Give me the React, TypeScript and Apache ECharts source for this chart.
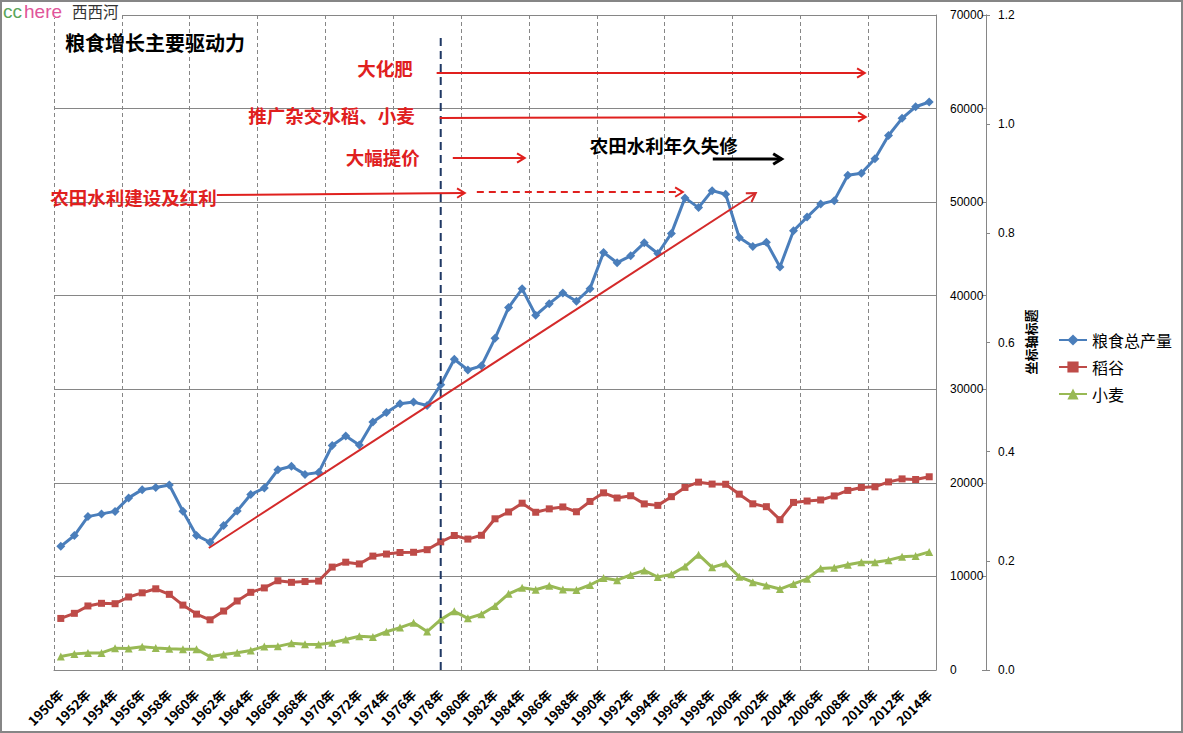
import React, { useEffect, useRef } from 'react';
import * as echarts from 'echarts';

const years: string[] = [];
for (let y = 1950; y <= 2014; y++) years.push(`${y}年`);

const grain = [
  13213, 14369, 16392, 16683, 16952, 18394, 19275, 19505, 19765, 16968,
  14385, 13650, 15441, 17000, 18750, 19453, 21400, 21782, 20906, 21097,
  23996, 25014, 24048, 26494, 27527, 28452, 28631, 28273, 30477, 33212,
  32056, 32502, 35450, 38728, 40731, 37911, 39151, 40298, 39408, 40755,
  44624, 43529, 44266, 45649, 44510, 46662, 50454, 49417, 51230, 50839,
  46218, 45264, 45706, 43070, 46947, 48402, 49804, 50160, 52871, 53082,
  54648, 57121, 58958, 60194, 60703,
];
const rice = [
  5510, 6056, 6843, 7127, 7085, 7803, 8248, 8678, 8085, 6937,
  5973, 5364, 6299, 7377, 8300, 8772, 9539, 9369, 9453, 9507,
  10999, 11521, 11336, 12174, 12391, 12556, 12581, 12857, 13693, 14375,
  13991, 14396, 16160, 16887, 17826, 16857, 17222, 17426, 16911, 18013,
  18933, 18381, 18622, 17751, 17593, 18523, 19510, 20074, 19871, 19849,
  18791, 17758, 17454, 16066, 17909, 18059, 18172, 18603, 19190, 19510,
  19576, 20100, 20424, 20361, 20651,
];
const wheat = [
  1450, 1723, 1813, 1828, 2335, 2297, 2480, 2364, 2259, 2218,
  2217, 1425, 1667, 1848, 2084, 2522, 2528, 2848, 2746, 2729,
  2919, 3258, 3599, 3523, 4087, 4531, 5039, 4108, 5384, 6273,
  5521, 5964, 6847, 8139, 8782, 8581, 9004, 8590, 8543, 9081,
  9823, 9595, 10159, 10639, 9930, 10221, 11057, 12329, 10973, 11388,
  9964, 9387, 9029, 8649, 9195, 9745, 10847, 10930, 11246, 11512,
  11518, 11740, 12102, 12193, 12621,
];

const seriesNames = ['粮食总产量', '稻谷', '小麦'];
const leftTicks = [0, 10000, 20000, 30000, 40000, 50000, 60000, 70000];
const rightTicks = [0, 0.2, 0.4, 0.6, 0.8, 1.0, 1.2];

// annotations in data space: [category index (fractional), value]
const redArrows = [
  { from: [27.7, 63800], to: [59.25, 63800] },
  { from: [27.93, 58990], to: [59.32, 59100] },
  { from: [28.89, 54720], to: [34.19, 54720] },
  { from: [11.5, 50760], to: [29.77, 50980] },
];
const dashedArrow = { from: [30.66, 51080], to: [45.84, 51080] };
const trendArrow = { from: [10.91, 13040], to: [51.22, 50980] };
const blackArrow = { from: [48.05, 54610], to: [53.13, 54610] };
const reformLine = { idx: 28, top: 67650 };
const notes = [
  { text: '大化肥', at: [25.94, 64340], align: 'right', black: false },
  { text: '推广杂交水稻、小麦', at: [26.09, 59320], align: 'right', black: false },
  { text: '大幅提价', at: [26.46, 54830], align: 'right', black: false },
  { text: '农田水利建设及红利', at: [11.5, 50550], align: 'right', black: false },
  { text: '农田水利年久失修', at: [38.98, 56110], align: 'left', black: true },
];

const RED = '#e0201e';
const GRID = '#868686';
const CJK = '"Noto Sans CJK SC", "Noto Sans", sans-serif';

export default function App() {
  const ref = useRef<HTMLDivElement>(null);
  useEffect(() => {
    const chart = echarts.init(ref.current!, null, { renderer: 'svg' });
    const option: any = {
      animation: false,
      backgroundColor: '#fff',
      textStyle: { fontFamily: CJK },
      grid: { left: 54, right: 247, top: 15, bottom: 63, outerBoundsMode: 'none', containLabel: false },
      legend: {
        orient: 'vertical',
        left: 1053,
        top: 327,
        itemWidth: 28,
        itemHeight: 14,
        itemGap: 11,
        data: seriesNames,
        textStyle: { fontSize: 16, color: '#000', fontFamily: CJK },
      },
      xAxis: [
        {
          type: 'category',
          data: years,
          boundaryGap: true,
          axisLine: { show: true, lineStyle: { color: GRID, width: 1 } },
          axisTick: { show: false },
          axisLabel: {
            interval: 1,
            rotate: 45,
            margin: 22,
            fontSize: 13,
            fontWeight: 'bold',
            color: '#000',
            fontFamily: CJK,
          },
          splitLine: { show: true, interval: 4, lineStyle: { color: GRID, type: [4, 3], width: 1 } },
        },
      ],
      yAxis: [
        {
          type: 'value',
          position: 'right',
          offset: 50,
          min: leftTicks[0],
          max: leftTicks[leftTicks.length - 1],
          interval: 10000,
          axisLine: { show: true, lineStyle: { color: GRID } },
          axisTick: { show: true, inside: true, length: 4, lineStyle: { color: GRID } },
          axisLabel: {
            inside: true,
            align: 'left',
            margin: 36,
            fontSize: 12,
            color: '#000',
            fontFamily: '"Liberation Sans", Arial, sans-serif',
            formatter: (v: number) => String(v),
          },
          splitLine: { show: true, lineStyle: { color: GRID, width: 1 } },
        },
        {
          type: 'value',
          position: 'right',
          offset: 50,
          min: rightTicks[0],
          max: rightTicks[rightTicks.length - 1],
          interval: 0.2,
          axisLine: { show: true, lineStyle: { color: GRID } },
          axisTick: { show: true, inside: false, length: 4, lineStyle: { color: GRID } },
          axisLabel: {
            margin: 12,
            fontSize: 12,
            color: '#000',
            fontFamily: '"Liberation Sans", Arial, sans-serif',
            formatter: (v: number) => v.toFixed(1),
          },
          splitLine: { show: false },
        },
        {
          type: 'value',
          position: 'right',
          offset: 0,
          min: leftTicks[0],
          max: leftTicks[leftTicks.length - 1],
          axisLine: { show: true, lineStyle: { color: GRID } },
          axisTick: { show: false },
          axisLabel: { show: false },
          splitLine: { show: false },
        },
      ],
      series: [
        {
          name: seriesNames[0],
          type: 'line',
          data: grain,
          symbol: 'diamond',
          symbolSize: 9,
          itemStyle: { color: '#4a7ebb' },
          lineStyle: { width: 3, color: '#4a7ebb' },
          z: 5,
        },
        {
          name: seriesNames[1],
          type: 'line',
          data: rice,
          symbol: 'rect',
          symbolSize: 7,
          itemStyle: { color: '#be4b48' },
          lineStyle: { width: 3, color: '#be4b48' },
          z: 4,
        },
        {
          name: seriesNames[2],
          type: 'line',
          data: wheat,
          symbol: 'triangle',
          symbolSize: 8,
          itemStyle: { color: '#98b954' },
          lineStyle: { width: 3, color: '#98b954' },
          z: 3,
        },
      ],
    };
    chart.setOption(option);

    const xa = chart.convertToPixel({ xAxisIndex: 0 }, years[0]) as number;
    const xb = chart.convertToPixel({ xAxisIndex: 0 }, years[years.length - 1]) as number;
    const px = (p: number[]) => {
      const x = xa + ((xb - xa) * p[0]) / (years.length - 1);
      const y = chart.convertToPixel({ yAxisIndex: 0 }, p[1]) as number;
      return [x, y];
    };
    const els: any[] = [];
    const arrow = (from: number[], to: number[], color: string, width: number, dash: any, head: number) => {
      const a = px(from);
      const b = px(to);
      els.push({
        type: 'line',
        z: 100,
        shape: { x1: a[0], y1: a[1], x2: b[0], y2: b[1] },
        style: { stroke: color, lineWidth: width, lineDash: dash },
      });
      const ang = Math.atan2(b[1] - a[1], b[0] - a[0]);
      const phi = 0.55;
      const p1 = [b[0] + head * Math.cos(ang + Math.PI - phi), b[1] + head * Math.sin(ang + Math.PI - phi)];
      const p2 = [b[0] + head * Math.cos(ang + Math.PI + phi), b[1] + head * Math.sin(ang + Math.PI + phi)];
      els.push({
        type: 'polyline',
        z: 100,
        shape: { points: [p1, b, p2] },
        style: { stroke: color, lineWidth: width, fill: null },
      });
    };
    redArrows.forEach((r) => arrow(r.from, r.to, RED, 2, null, 9));
    arrow(dashedArrow.from, dashedArrow.to, RED, 2, [7, 5], 9);
    arrow(trendArrow.from, trendArrow.to, '#d42a2a', 2, null, 10);
    arrow(blackArrow.from, blackArrow.to, '#000', 3, null, 10);
    const vb = px([reformLine.idx, 0]);
    const vt = px([reformLine.idx, reformLine.top]);
    els.push({
      type: 'line',
      z: 90,
      shape: { x1: vb[0], y1: vb[1], x2: vt[0], y2: vt[1] },
      style: { stroke: '#1f3864', lineWidth: 2, lineDash: [8, 5] },
    });
    notes.forEach((n) => {
      const p = px(n.at);
      els.push({
        type: 'text',
        z: 110,
        x: p[0],
        y: p[1],
        style: {
          text: n.text,
          fill: n.black ? '#000' : RED,
          font: `bold 18.5px ${CJK}`,
          align: n.align,
          verticalAlign: 'middle',
          textAlign: n.align,
          textVerticalAlign: 'middle',
        },
      });
    });
    // logo & title & frame
    els.push({
      type: 'rect',
      z: 120,
      shape: { x: 0, y: 0, width: 122, height: 18 },
      style: { fill: '#fff' },
    });
    els.push({
      type: 'text', z: 121, x: 3, y: 11,
      style: { text: 'cc', fill: '#5aa55a', font: '19px "Liberation Sans", Arial, sans-serif', verticalAlign: 'middle', textVerticalAlign: 'middle' },
    });
    els.push({
      type: 'text', z: 121, x: 24, y: 11,
      style: { text: 'here', fill: '#e0559a', font: '19px "Liberation Sans", Arial, sans-serif', verticalAlign: 'middle', textVerticalAlign: 'middle' },
    });
    els.push({
      type: 'text', z: 121, x: 72, y: 11,
      style: { text: '西西河', fill: '#333', font: `15.5px ${CJK}`, verticalAlign: 'middle', textVerticalAlign: 'middle' },
    });
    els.push({
      type: 'text', z: 121, x: 65, y: 42,
      style: { text: '粮食增长主要驱动力', fill: '#000', font: `bold 20px ${CJK}`, verticalAlign: 'middle', textVerticalAlign: 'middle' },
    });
    els.push({
      type: 'text', z: 121, x: 1030, y: 342, rotation: Math.PI / 2,
      style: { text: '坐标轴标题', fill: '#000', font: `bold 13px ${CJK}`, align: 'center', textAlign: 'center', verticalAlign: 'middle', textVerticalAlign: 'middle' },
    });
    els.push({
      type: 'rect',
      z: 130,
      shape: { x: 1, y: 1, width: 1181, height: 731 },
      style: { fill: null, stroke: GRID, lineWidth: 2 },
    });
    chart.setOption({ graphic: els });
    return () => chart.dispose();
  }, []);
  return <div ref={ref} style={{ position: 'absolute', left: 0, top: 0, width: 1183, height: 733 }} />;
}
